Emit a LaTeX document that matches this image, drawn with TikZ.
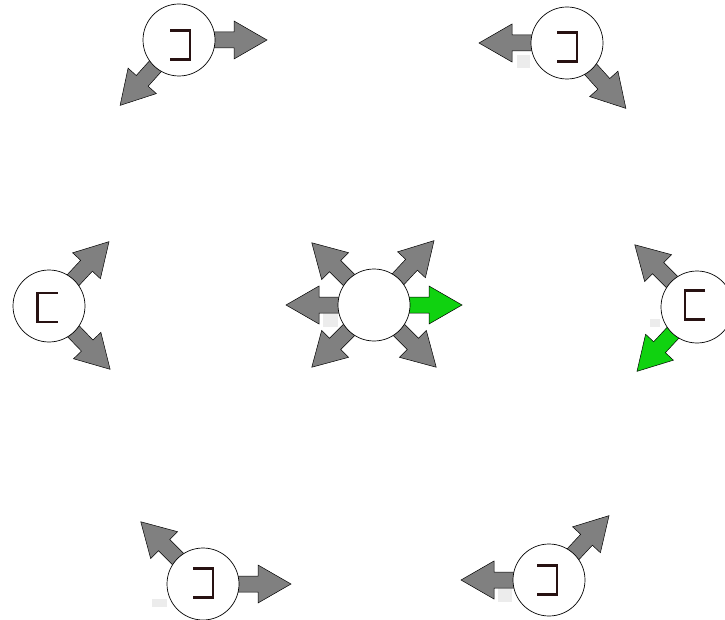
\documentclass[tikz,border=0pt]{standalone}
\begin{document}
\begin{tikzpicture}[x=1pt,y=-1pt,
  state/.style={circle,draw=black,line width=0.7pt,fill=white,minimum size=72pt,inner sep=0pt},
  blk/.style={draw=black,line width=0.5pt,fill=arrgray,line join=miter},
  blkg/.style={draw=black,line width=0.5pt,fill=arrgreen,line join=miter},
  ghost/.style={fill=ghostgray,draw=none},
  symline/.style={draw=symcol,line width=2.3pt,line cap=butt,line join=miter},
  symR/.pic={\draw[symline] (-10,-14.5) -- (10,-14.5) -- (10,14.5) -- (-10,14.5);},
  symL/.pic={\draw[symline] (10,-14.5) -- (-10,-14.5) -- (-10,14.5) -- (10,14.5);},
]
\definecolor{arrgray}{RGB}{128,128,128}
\definecolor{arrgreen}{RGB}{16,210,16}
\definecolor{ghostgray}{RGB}{236,236,236}
\definecolor{symcol}{RGB}{40,18,18}
\useasboundingbox (0,0) rectangle (725,620);
\fill[white] (0,0) rectangle (725,620);
% faint rectangles
\fill[ghost] (517,55) rectangle (530,68);
\fill[ghost] (323,313) rectangle (338,327);
\fill[ghost] (650,319) rectangle (660,327);
\fill[ghost] (152,599) rectangle (167,607);
\fill[ghost] (498,588) rectangle (512,602);
% centres
\coordinate (tl) at (179,40);
\coordinate (tr) at (567,43);
\coordinate (l) at (49,306);
\coordinate (c) at (374,305);
\coordinate (r) at (697,307);
\coordinate (bl) at (203,584);
\coordinate (br) at (549,580);
% block arrows: #1 style, #2 centre, #3 angle
\newcommand\blockarrow[3]{%
  \begin{scope}[shift={(#2)},rotate=#3]
    \draw[#1] (0,-8) -- (55,-8) -- (55,-19) -- (88,0) -- (55,19) -- (55,8) -- (0,8) -- cycle;
  \end{scope}}
\blockarrow{blk}{tl}{0}
\blockarrow{blk}{tl}{228}
\blockarrow{blk}{tr}{180}
\blockarrow{blk}{tr}{-48}
\blockarrow{blk}{l}{47}
\blockarrow{blk}{l}{-46}
\blockarrow{blk}{c}{135}
\blockarrow{blk}{c}{47}
\blockarrow{blk}{c}{180}
\blockarrow{blkg}{c}{0}
\blockarrow{blk}{c}{225}
\blockarrow{blk}{c}{-45}
\blockarrow{blk}{r}{135}
\blockarrow{blkg}{r}{227}
\blockarrow{blk}{bl}{135}
\blockarrow{blk}{bl}{0}
\blockarrow{blk}{br}{180}
\blockarrow{blk}{br}{47}
% states
\node[state] (ntl) at (tl) {};
\node[state] (ntr) at (tr) {};
\node[state] (nl) at (l) {};
\node[state] (nc) at (c) {};
\node[state] (nr) at (r) {};
\node[state] (nbl) at (bl) {};
\node[state] (nbr) at (br) {};
% symbols
\pic at (180,45) {symR};
\pic at (567,47) {symR};
\pic at (47.5,307.5) {symL};
\pic at (695,305) {symL};
\pic at (203,583) {symR};
\pic at (547,580) {symR};
\end{tikzpicture}
\end{document}
